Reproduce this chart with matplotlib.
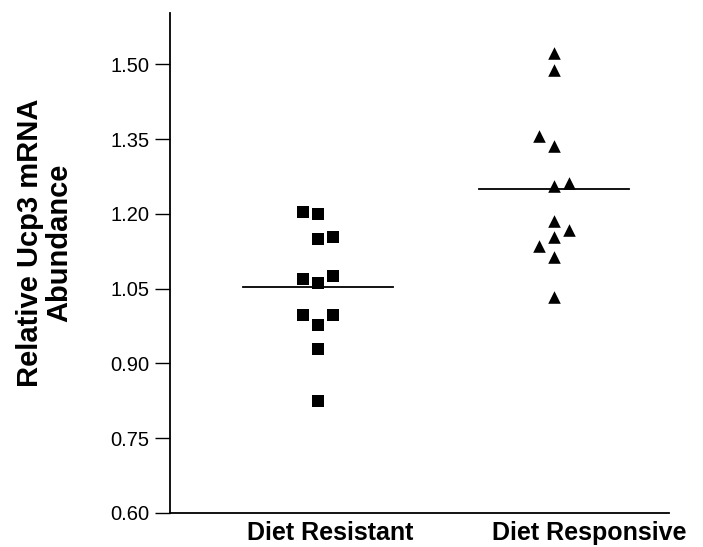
import numpy as np
import matplotlib
matplotlib.use("Agg")
import matplotlib.pyplot as plt

plt.rcParams['font.family'] = ['Liberation Sans', 'DejaVu Sans']

# ---- data ----
categories = ["Diet Resistant", "Diet Responsive"]
resistant_values = [1.204, 1.199, 1.149, 1.153, 1.070, 1.076, 1.062, 0.998, 0.997, 0.977, 0.929, 0.825]
resistant_slot = [-1, 0, 0, 1, -1, 1, 0, -1, 1, 0, 0, 0]
responsive_values = [1.523, 1.488, 1.357, 1.336, 1.255, 1.261, 1.186, 1.167, 1.153, 1.135, 1.114, 1.034]
responsive_slot = [0, 0, -1, 0, 0, 1, 0, 1, 0, -1, 0, 0]
yticks = [0.60, 0.75, 0.90, 1.05, 1.20, 1.35, 1.50]
ytick_labels = ["0.60", "0.75", "0.90", "1.05", "1.20", "1.35", "1.50"]
ylabel = "Relative Ucp3 mRNA\nAbundance"

# ---- layout ----
W, H = 703, 547
fig = plt.figure(figsize=(W / 100, H / 100), dpi=100)
ax = fig.add_axes([170 / W, 34 / H, (669 - 170) / W, (513 - 13) / H])

step = 0.0635
half = 0.317
group_x = [1, 2]
label_x = [1.052, 2.148]

xr = group_x[0] + np.array(resistant_slot) * step
xs = group_x[1] + np.array(responsive_slot) * step
ax.scatter(xr, resistant_values, marker='s', s=72, color='black', linewidths=0, zorder=3)
ax.scatter(xs, responsive_values, marker='^', s=82, color='black', linewidths=0, zorder=3)

for gx, vals in zip(group_x, [resistant_values, responsive_values]):
    m = np.mean(vals)
    ax.plot([gx - half, gx + half], [m, m], color='black', lw=1.3, zorder=2)

ax.set_xlim(0.375, 2.487)
ax.set_ylim(0.60, 1.603)
ax.set_yticks(yticks)
ax.set_yticklabels(ytick_labels, fontsize=14.5)
ax.set_xticks(label_x)
ax.set_xticklabels(categories, fontsize=18, fontweight='bold')
ax.tick_params(axis='x', length=0, pad=6)
ax.tick_params(axis='y', length=11, width=1.0, pad=4, direction='out')

for s in ['top', 'right']:
    ax.spines[s].set_visible(False)
for s in ['left', 'bottom']:
    ax.spines[s].set_linewidth(1.3)

fig.text(45 / W, 1 - 243 / H, ylabel, rotation=90, ha='center', va='center',
         fontsize=21, fontweight='bold', multialignment='center', linespacing=1.05)

fig.savefig("out.png", dpi=100)
